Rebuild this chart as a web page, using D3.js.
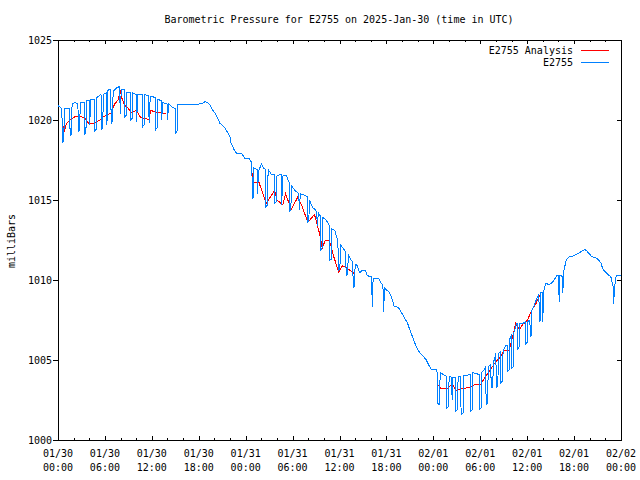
<!DOCTYPE html>
<html><head><meta charset="utf-8">
<script src="https://cdn.jsdelivr.net/npm/d3@7"></script>
<style>
body{margin:0;background:#fff}
svg{display:block}
text{font-family:"DejaVu Sans Mono",monospace;font-size:10px;fill:#000}
</style>
</head><body><svg id="c" width="640" height="480"></svg>
<script>
const titleText = "Barometric Pressure for E2755 on 2025-Jan-30 (time in UTC)";
const yTitle = "milliBars";
const seriesNames = ["E2755 Analysis", "E2755"];
const seriesColors = ["#ff0000", "#0080ff"];
const yTickValues = [1000, 1005, 1010, 1015, 1020, 1025];
const startUTC = Date.UTC(2025, 0, 30);
const spanHours = 72;

// E2755 observations: [hours since 2025-01-30 00:00 UTC, mb]
const blueA = [[0.0,1020.9],[0.3,1020.8],[0.5,1020.7],[0.55,1018.6],[0.75,1018.7],[0.8,1020.7],[1.5,1020.7],[1.55,1019.0],[1.72,1019.1],[1.8,1021.0],[2.2,1021.1],[2.55,1021.0],[2.6,1019.3],[2.77,1019.4],[2.85,1021.1],[3.35,1021.1],[3.4,1019.1],[3.57,1019.2],[3.65,1021.2],[4.0,1021.2],[4.05,1019.7],[4.2,1021.3],[4.65,1021.3],[4.7,1019.3],[4.87,1019.4],[4.95,1021.4],[5.5,1021.6],[5.55,1019.4],[5.72,1019.5],[5.8,1021.6],[6.2,1021.7],[6.25,1019.7],[6.4,1021.9],[6.75,1021.9],[6.8,1019.8],[6.97,1019.9],[7.05,1021.8],[7.5,1022.0],[7.9,1022.1],[7.95,1020.4],[8.1,1021.9],[8.5,1021.9],[8.55,1020.2],[8.72,1020.3],[8.8,1021.7],[9.25,1021.7],[9.3,1020.0],[9.47,1020.1],[9.55,1021.7],[10.0,1021.6],[10.05,1019.9],[10.2,1021.6],[10.8,1021.6],[10.85,1019.6],[11.02,1019.7],[11.1,1021.6],[11.6,1021.5],[11.65,1019.8],[11.8,1021.5],[12.45,1021.4],[12.5,1019.4],[12.67,1019.5],[12.75,1021.3],[13.2,1021.2],[13.25,1020.0],[13.4,1021.1],[13.95,1021.0],[14.0,1020.0],[14.15,1021.0],[14.6,1020.8],[15.0,1020.7],[15.05,1019.2],[15.22,1019.3],[15.3,1021.0],[15.8,1021.0]];
const blueFall1 = [[16.5,1020.95],[17.0,1020.95],[17.5,1021.0],[18.0,1021.0],[18.5,1021.05],[18.8,1021.15],[19.1,1021.1],[19.4,1020.95],[19.6,1020.8],[19.8,1020.6],[20.05,1020.45],[20.3,1020.2],[20.5,1020.05],[20.7,1019.8],[20.95,1019.7],[21.2,1019.6],[21.4,1019.45],[21.6,1019.3],[21.8,1019.15],[22.0,1018.95],[22.1,1018.6],[22.3,1018.4],[22.45,1018.2],[22.6,1018.1],[22.85,1017.9],[23.5,1017.9],[23.7,1017.75],[23.9,1017.6],[24.5,1017.6],[24.6,1017.4]];
const blueB = [[24.75,1017.4],[24.8,1016.9],[24.85,1015.1],[25.0,1015.2],[25.05,1017.0],[25.45,1016.9],[25.5,1015.4],[25.65,1016.8],[26.0,1017.25],[26.3,1017.0],[26.55,1016.9],[26.6,1014.6],[26.8,1014.7],[26.87,1016.9],[27.3,1016.6],[27.65,1016.6],[27.7,1014.8],[27.9,1014.9],[27.97,1016.5],[28.45,1016.6],[28.55,1016.6],[28.6,1014.7],[28.77,1016.5],[29.2,1016.55],[29.55,1016.1],[29.6,1014.3],[29.78,1014.4],[29.85,1015.9],[30.3,1015.6],[30.8,1015.4],[30.85,1014.4],[31.0,1015.4],[31.5,1015.3],[31.85,1015.2],[31.9,1013.6],[32.08,1013.7],[32.15,1015.0],[32.6,1014.5],[32.9,1014.4],[33.1,1014.2],[33.15,1013.4],[33.3,1014.2],[33.55,1014.0],[33.6,1011.9],[33.8,1012.0],[33.87,1013.9],[34.3,1013.75],[34.7,1013.4],[34.75,1011.25],[34.93,1011.3],[35.0,1013.2],[35.4,1013.1],[35.8,1012.4],[35.85,1010.6],[36.05,1010.7],[36.13,1012.2],[36.6,1011.9],[36.8,1011.7],[36.85,1010.3],[37.05,1010.4],[37.12,1011.6],[37.55,1011.2],[37.7,1011.1],[37.75,1009.55],[37.93,1009.6],[38.0,1011.0],[38.3,1010.9]];
const blueFall2 = [[38.55,1010.45],[38.9,1010.6],[39.3,1010.6],[39.55,1010.3],[39.85,1010.2],[40.1,1010.2],[40.2,1008.3],[40.3,1010.1],[40.6,1010.1],[41.0,1010.1],[41.3,1009.8],[41.55,1009.7],[41.65,1008.0],[41.75,1009.5],[41.95,1009.4],[42.2,1009.3],[42.4,1009.2],[42.6,1009.0],[42.8,1008.7],[43.0,1008.35],[43.4,1008.3],[43.65,1008.2],[44.0,1007.9],[44.3,1007.65],[44.7,1007.3],[44.95,1006.95],[45.3,1006.5],[45.6,1006.1],[45.95,1005.7],[46.2,1005.5],[46.6,1005.3],[46.85,1005.15],[47.1,1005.0],[47.3,1004.8],[47.5,1004.6],[47.75,1004.4],[48.4,1004.4]];
const blueC = [[48.5,1004.2],[48.57,1002.3],[48.8,1002.2],[48.87,1004.2],[49.65,1004.0],[49.7,1002.0],[49.95,1002.1],[50.02,1004.0],[50.35,1003.9],[50.4,1002.5],[50.5,1003.9],[50.85,1003.9],[50.9,1001.8],[51.1,1001.9],[51.17,1004.0],[51.5,1004.0],[51.55,1001.6],[51.8,1001.7],[51.87,1004.0],[52.75,1004.1],[52.8,1001.8],[53.0,1001.9],[53.07,1004.2],[53.85,1004.1],[53.9,1001.9],[54.1,1002.0],[54.17,1004.2],[54.5,1004.4],[54.7,1004.6],[54.75,1002.2],[54.95,1002.3],[55.02,1004.6],[55.35,1004.7],[55.4,1003.25],[55.6,1003.3],[55.67,1004.8],[56.0,1005.4],[56.05,1003.3],[56.25,1003.4],[56.32,1005.4],[56.6,1005.5],[56.65,1003.6],[56.85,1003.7],[56.92,1005.6],[57.25,1005.9],[57.45,1005.9],[57.5,1004.3],[57.7,1004.4],[57.77,1006.3],[58.0,1006.6],[58.05,1004.5],[58.22,1004.6],[58.29,1006.7],[58.65,1007.3],[58.75,1007.3],[58.8,1005.7],[58.97,1005.8],[59.05,1007.3],[59.5,1007.3],[59.8,1007.4],[59.85,1006.0],[60.0,1006.1],[60.07,1007.4],[60.35,1007.5],[60.4,1006.45],[60.52,1006.5],[60.6,1008.1],[60.9,1008.4],[61.15,1008.75],[61.4,1009.0],[61.5,1009.1],[61.55,1007.4],[61.67,1007.5],[61.75,1009.2],[61.95,1009.2],[62.0,1007.4],[62.1,1009.3],[62.4,1009.8]];
const blueTail = [[62.8,1009.7],[63.1,1009.8],[63.45,1010.0],[63.8,1010.3],[64.0,1010.3],[64.1,1008.6],[64.2,1010.3],[64.45,1010.3],[64.55,1009.2],[64.7,1010.6],[65.0,1011.25],[65.4,1011.45],[65.75,1011.45],[66.0,1011.55],[66.3,1011.6],[66.65,1011.7],[67.0,1011.8],[67.4,1011.9],[67.65,1011.8],[68.0,1011.6],[68.3,1011.45],[68.6,1011.4],[68.9,1011.35],[69.2,1011.2],[69.45,1011.04],[69.6,1010.8],[69.8,1010.6],[70.0,1010.5],[70.2,1010.4],[70.45,1010.3],[70.7,1010.2],[70.85,1009.9],[71.0,1009.6],[71.05,1008.5],[71.2,1009.6],[71.4,1010.3],[72.0,1010.3]];

// E2755 Analysis: three separate pieces
const redA = [[0.65,1019.6],[0.75,1019.2],[1.1,1019.8],[1.65,1020.05],[2.15,1020.2],[2.8,1020.25],[3.45,1020.1],[3.9,1019.8],[4.7,1019.8],[5.35,1020.0],[5.8,1020.2],[6.85,1020.45],[6.95,1020.7],[7.3,1021.04],[7.7,1021.25],[8.0,1021.9],[8.1,1021.45],[8.55,1020.9],[8.85,1020.8],[9.4,1020.45],[10.05,1020.6],[10.5,1020.2],[10.9,1020.1],[11.65,1020.04],[11.85,1020.6],[12.5,1020.5],[13.0,1020.45],[13.8,1020.4]];
const redB = [[24.77,1016.9],[24.93,1016.1],[25.7,1016.1],[26.2,1015.4],[26.65,1014.8],[27.7,1015.6],[28.0,1015.0],[28.76,1014.7],[29.1,1015.4],[29.83,1014.4],[30.68,1015.2],[31.3,1014.5],[31.95,1013.6],[32.8,1014.1],[33.45,1012.9],[33.8,1012.0],[34.2,1012.5],[34.7,1012.5],[35.27,1011.45],[35.9,1010.5],[36.4,1010.9],[37.06,1010.7],[37.9,1010.4]];
const redC = [[48.68,1003.45],[48.98,1003.2],[49.8,1003.2],[50.43,1003.5],[50.85,1003.1],[51.7,1003.2],[52.6,1003.3],[53.45,1003.5],[54.1,1003.5],[54.5,1003.85],[55.15,1004.3],[56.0,1004.9],[56.43,1005.1],[57.05,1005.6],[57.7,1005.6],[57.9,1006.0],[58.35,1006.9],[58.55,1007.3],[58.98,1006.9],[59.4,1007.2],[60.04,1007.5],[60.68,1008.2],[61.1,1008.5],[61.75,1009.2]];

const blue = [...blueA, ...blueFall1, ...blueB, ...blueFall2, ...blueC, ...blueTail];
const redPieces = [redA, redB, redC];

const toDate = h => new Date(startUTC + h * 3600e3);
const svg = d3.select("#c");
const L = 58, R = 621, T = 40, B = 440;
const x = d3.scaleUtc().domain([toDate(0), toDate(spanHours)]).range([L, R]);
const y = d3.scaleLinear().domain([1000, 1025]).range([B, T]);

const minorTicks = d3.utcHour.every(2).range(toDate(0), toDate(spanHours + 0.01));
const majorTicks = d3.utcHour.every(6).range(toDate(0), toDate(spanHours + 0.01));

function styleAxis(g) {
  g.select(".domain").remove();
  g.selectAll("line").attr("stroke", "#000").attr("shape-rendering", "crispEdges");
  g.selectAll("text").remove();
}
svg.append("g").attr("transform", `translate(0,${B})`).call(d3.axisBottom(x).tickValues(minorTicks).tickSize(-2)).call(styleAxis);
svg.append("g").attr("transform", `translate(0,${B})`).call(d3.axisBottom(x).tickValues(majorTicks).tickSize(-4)).call(styleAxis);
svg.append("g").attr("transform", `translate(0,${T})`).call(d3.axisTop(x).tickValues(minorTicks).tickSize(-2)).call(styleAxis);
svg.append("g").attr("transform", `translate(0,${T})`).call(d3.axisTop(x).tickValues(majorTicks).tickSize(-4)).call(styleAxis);
svg.append("g").attr("transform", `translate(${L},0)`).call(d3.axisLeft(y).tickValues(yTickValues).tickSize(5)).call(styleAxis);
svg.append("g").attr("transform", `translate(${R},0)`).call(d3.axisRight(y).tickValues(yTickValues).tickSize(-4)).call(styleAxis);

// Y labels
svg.append("g").selectAll("text").data(yTickValues).join("text")
  .attr("x", 52).attr("y", d => y(d)).attr("dy", "0.35em").attr("text-anchor", "end").text(d => d);

// X labels
const fmtD = d3.utcFormat("%m/%d"), fmtT = d3.utcFormat("%H:%M");
const xl = svg.append("g").selectAll("text").data(majorTicks).join("text")
  .attr("text-anchor", "middle");
xl.append("tspan").attr("x", d => x(d)).attr("y", 457).text(d => fmtD(d));
xl.append("tspan").attr("x", d => x(d)).attr("y", 471).text(d => fmtT(d));

// Border
svg.append("rect").attr("x", L).attr("y", T).attr("width", R - L).attr("height", B - T)
  .attr("fill", "none").attr("stroke", "#000").attr("shape-rendering", "crispEdges");

// Lines
const line = d3.line().x(d => x(toDate(d[0]))).y(d => y(d[1]));
svg.append("g").selectAll("path").data(redPieces).join("path")
  .attr("d", line).attr("fill", "none").attr("stroke", seriesColors[0]).attr("stroke-width", 1)
  .attr("shape-rendering", "crispEdges");
svg.append("path").datum(blue).attr("d", line).attr("fill", "none")
  .attr("stroke", seriesColors[1]).attr("stroke-width", 1).attr("shape-rendering", "crispEdges");

// Title
svg.append("text").attr("x", 339).attr("y", 19).attr("dy", "0.35em").attr("text-anchor", "middle").text(titleText);
// Y title
svg.append("text").attr("transform", "translate(11,241) rotate(-90)").attr("dy", "0.35em")
  .attr("text-anchor", "middle").text(yTitle);

// Legend
const leg = svg.append("g");
seriesNames.forEach((name, i) => {
  const ly = 50 + i * 12;
  leg.append("text").attr("x", 573).attr("y", ly).attr("dy", "0.35em").attr("text-anchor", "end").text(name);
  leg.append("line").attr("x1", 581).attr("x2", 609).attr("y1", ly).attr("y2", ly)
    .attr("stroke", seriesColors[i]).attr("shape-rendering", "crispEdges");
});
</script>
</body></html>
